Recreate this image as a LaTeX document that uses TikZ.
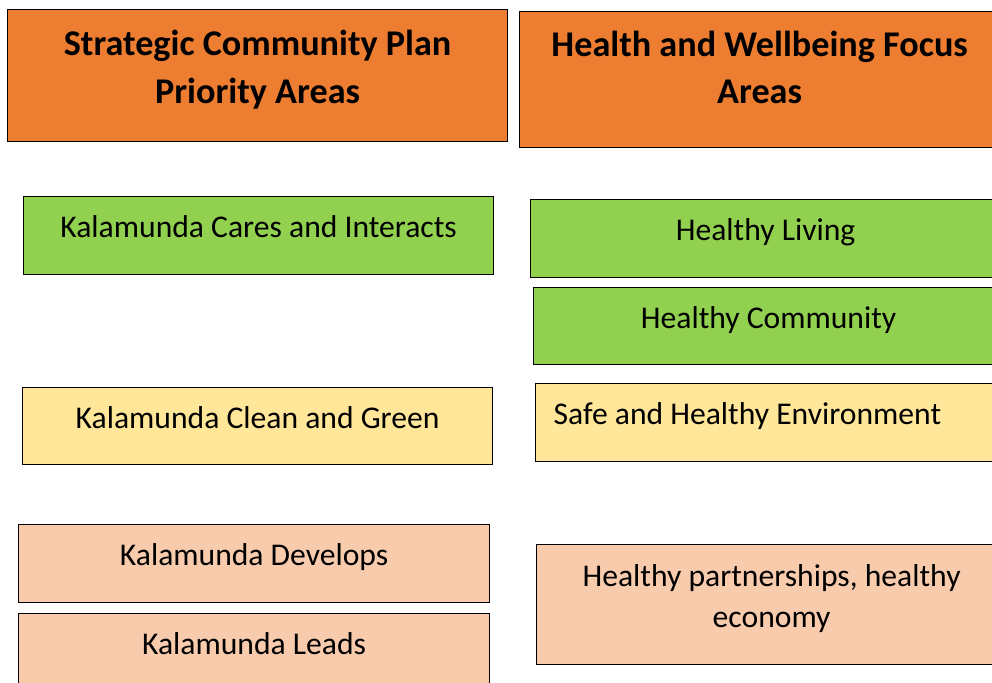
\documentclass[tikz,border=0pt]{standalone}
\usepackage{fontspec}
\setmainfont{Carlito}
\usepackage{tikz}
\usetikzlibrary{positioning}

\definecolor{headorange}{HTML}{ED7D31}
\definecolor{areagreen}{HTML}{92D050}
\definecolor{areayellow}{HTML}{FFE699}
\definecolor{areapeach}{HTML}{F8CBAD}

\begin{document}
\begin{tikzpicture}[x=0.02cm, y=-0.02cm,
    area/.style={rectangle, draw=black, line width=0.75pt, anchor=north west,
      align=center, text depth=10pt, font=\fontsize{18}{23}\selectfont},
    header/.style={area, fill=headorange, font=\bfseries\fontsize{20.6}{27}\selectfont},
    green/.style={area, fill=areagreen},
    yellow/.style={area, fill=areayellow},
    peach/.style={area, fill=areapeach}]

    \clip (0,0) rectangle (992,683);

    % column headings
    \node[header, minimum width=10cm, minimum height=2.64cm] (planhead) at (7,9)
        {Strategic Community Plan\\Priority Areas};
    \node[header, text depth=14pt, minimum width=9.6cm, minimum height=2.72cm] (focushead) at (519,11)
        {Health and Wellbeing Focus\\Areas};

    % priority areas
    \node[green, minimum width=9.4cm, minimum height=1.56cm] (cares) at (23,196)
        {Kalamunda Cares and Interacts};
    \node[yellow, minimum width=9.4cm, minimum height=1.54cm] (clean) at (22,387)
        {Kalamunda Clean and Green};
    \node[peach, minimum width=9.42cm, minimum height=1.56cm] (develops) at (18,524)
        {Kalamunda Develops};
    \node[peach, minimum width=9.42cm, minimum height=1.56cm] (leads) at (18,613)
        {Kalamunda Leads};

    % focus areas
    \node[green, minimum width=9.4cm, minimum height=1.56cm] (living) at (530,199)
        {Healthy Living};
    \node[green, minimum width=9.4cm, minimum height=1.54cm] (community) at (533,287)
        {Healthy Community};
    \node[yellow, align=flush left, inner xsep=0.36cm, text width=8.68cm,
        minimum height=1.56cm] (environment) at (535,383)
        {Safe and Healthy Environment};
    \node[peach, minimum width=9.4cm, minimum height=2.4cm] (partners) at (536,544)
        {Healthy partnerships, healthy\\economy};
\end{tikzpicture}
\end{document}
